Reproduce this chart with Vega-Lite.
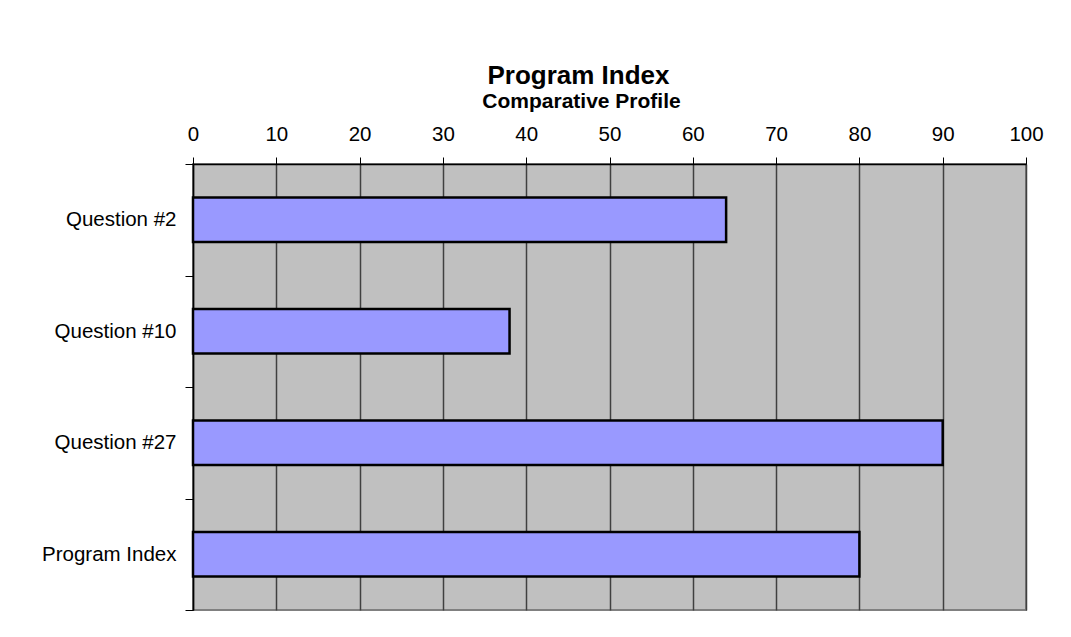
{
  "$schema": "https://vega.github.io/schema/vega-lite/v6.json",
  "autosize": {"type": "none"},
  "padding": {"left": 193, "top": 164, "right": 45, "bottom": 27},
  "width": 833,
  "height": 446,
  "background": "white",
  "title": {
    "text": "Program Index",
    "font": "Liberation Sans",
    "fontSize": 26,
    "fontWeight": "bold",
    "color": "black",
    "anchor": "middle",
    "dx": -31,
    "dy": 13,
    "offset": 14
  },
  "data": {
    "values": [
      {"item": "Question #2", "value": 64},
      {"item": "Question #10", "value": 38},
      {"item": "Question #27", "value": 90},
      {"item": "Program Index", "value": 80}
    ]
  },
  "mark": {"type": "bar", "fill": "#9999FF", "stroke": "black", "strokeWidth": 2.5, "height": {"band": 0.4}},
  "encoding": {
    "y": {
      "field": "item",
      "type": "nominal",
      "sort": null,
      "scale": {"paddingInner": 0, "paddingOuter": 0},
      "axis": {
        "title": null,
        "tickBand": "extent",
        "tickSize": 8,
        "tickColor": "black",
        "domainColor": "black",
        "domainWidth": 1.5,
        "labelFont": "Liberation Sans",
        "labelFontSize": 20.5,
        "labelColor": "black",
        "labelPadding": 9,
        "grid": false
      }
    },
    "x": {
      "field": "value",
      "type": "quantitative",
      "scale": {"domain": [0, 100], "nice": false},
      "axis": {
        "orient": "top",
        "values": [0, 10, 20, 30, 40, 50, 60, 70, 80, 90, 100],
        "title": "Comparative Profile",
        "titleFont": "Liberation Sans",
        "titleFontSize": 21,
        "titleFontWeight": "bold",
        "titleColor": "black",
        "titleX": 388,
        "titleY": -57,
        "titleBaseline": "alphabetic",
        "tickSize": 7,
        "tickColor": "black",
        "domainColor": "black",
        "domainWidth": 1.5,
        "labelFont": "Liberation Sans",
        "labelFontSize": 20.5,
        "labelColor": "black",
        "labelPadding": 17,
        "labelBaseline": "alphabetic",
        "labelFlush": false,
        "labelOverlap": false,
        "grid": true,
        "gridColor": "#404040",
        "gridWidth": 1.5,
        "gridOpacity": 1
      }
    }
  },
  "config": {
    "view": {"fill": "#C0C0C0", "stroke": "#808080", "strokeWidth": 2}
  }
}
